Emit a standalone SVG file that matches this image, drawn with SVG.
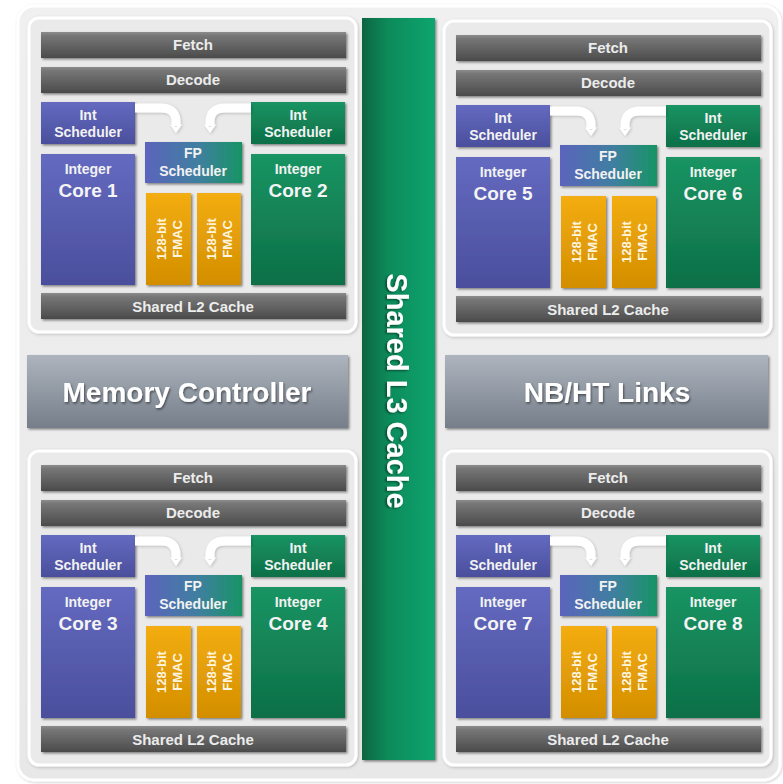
<svg xmlns="http://www.w3.org/2000/svg" width="783" height="784" viewBox="0 0 783 784">
  <defs>
    <style>
      text { font-family: "Liberation Sans", Arial, sans-serif; font-weight: bold; text-anchor: middle; }
      .panel { fill: #eaeaea; stroke: #ffffff; stroke-width: 3; }
      .bar { fill: url(#gBar); filter: url(#shadow); }
      .purple { fill: url(#gPurple); filter: url(#shadow); }
      .green { fill: url(#gGreen); filter: url(#shadow); }
      .fp { fill: url(#gFp); filter: url(#shadow); }
      .fmac { fill: url(#gFmac); filter: url(#shadow); }
      .slate { fill: url(#gSlate); filter: url(#shadow); }
      .l3 { fill: url(#gL3); filter: url(#shadow); }
      .tBar { font-size: 15px; fill: #ececec; }
      .tSm { font-size: 14px; fill: #f2f2f2; }
      .tCore { font-size: 19px; fill: #f4f4f4; }
      .tFm { font-size: 13px; fill: #fff6e0; }
      .tBig { font-size: 28px; fill: #ffffff; filter: url(#tshadow); }
      .tL3 { font-size: 29px; fill: #ffffff; filter: url(#tshadow); }
      .arrow { fill: none; stroke: #ffffff; stroke-width: 9; marker-end: url(#head); }
    </style>
    <linearGradient id="gBar" x1="0" y1="0" x2="0" y2="1">
      <stop offset="0" stop-color="#8c8c8c"/>
      <stop offset="0.15" stop-color="#767676"/>
      <stop offset="1" stop-color="#4b4b4b"/>
    </linearGradient>
    <linearGradient id="gPurple" x1="0" y1="0" x2="0" y2="1">
      <stop offset="0" stop-color="#646ac0"/>
      <stop offset="1" stop-color="#4a4f9c"/>
    </linearGradient>
    <linearGradient id="gGreen" x1="0" y1="0" x2="0" y2="1">
      <stop offset="0" stop-color="#1a9463"/>
      <stop offset="1" stop-color="#0d6f47"/>
    </linearGradient>
    <linearGradient id="gFp" x1="0" y1="0" x2="1" y2="0">
      <stop offset="0" stop-color="#5c64bc"/>
      <stop offset="0.55" stop-color="#3f7fa0"/>
      <stop offset="1" stop-color="#179464"/>
    </linearGradient>
    <linearGradient id="gFmac" x1="0" y1="0" x2="0" y2="1">
      <stop offset="0" stop-color="#f3ad12"/>
      <stop offset="1" stop-color="#d38e00"/>
    </linearGradient>
    <linearGradient id="gSlate" x1="0" y1="0" x2="0" y2="1">
      <stop offset="0" stop-color="#adb4be"/>
      <stop offset="1" stop-color="#757e89"/>
    </linearGradient>
    <linearGradient id="gL3" x1="0" y1="0" x2="1" y2="0">
      <stop offset="0" stop-color="#0a6541"/>
      <stop offset="0.35" stop-color="#0a8a5a"/>
      <stop offset="1" stop-color="#0aa56f"/>
    </linearGradient>
    <linearGradient id="gOuter" x1="0" y1="0" x2="0" y2="1">
      <stop offset="0" stop-color="#f0f0f0"/>
      <stop offset="1" stop-color="#e8e8e8"/>
    </linearGradient>
    <filter id="shadow" x="-10%" y="-10%" width="130%" height="130%">
      <feDropShadow dx="1.5" dy="1.5" stdDeviation="1.2" flood-color="#000" flood-opacity="0.45"/>
    </filter>
    <filter id="soft" x="-5%" y="-5%" width="110%" height="110%">
      <feDropShadow dx="1" dy="1" stdDeviation="1.5" flood-color="#000" flood-opacity="0.2"/>
    </filter>
    <filter id="tshadow" x="-10%" y="-20%" width="120%" height="150%">
      <feDropShadow dx="1" dy="1.5" stdDeviation="1" flood-color="#000" flood-opacity="0.5"/>
    </filter>
    <marker id="head" markerUnits="userSpaceOnUse" markerWidth="20" markerHeight="14" refX="2" refY="8" orient="auto" viewBox="0 0 20 16">
      <path d="M0,1 L10,8 L0,15 L3,8 Z" fill="#ffffff"/>
    </marker>
  </defs>

  <!-- backdrop -->
  <rect x="0" y="0" width="783" height="784" fill="#ffffff"/>
  <rect x="18" y="6" width="762" height="774" rx="16" fill="url(#gOuter)" stroke="#ffffff" stroke-width="3" filter="url(#soft)"/>

  <!-- shared L3 cache -->
  <g id="l3-cache">
    <rect class="l3" x="362" y="18" width="73" height="742"/>
    <text class="tL3" transform="translate(397,391) rotate(90)" x="0" y="10">Shared L3 Cache</text>
  </g>

  <!-- memory controller -->
  <g id="memory-controller">
    <rect class="slate" x="27" y="355" width="321" height="73"/>
    <text class="tBig" x="187" y="402">Memory Controller</text>
  </g>

  <!-- northbridge / HyperTransport -->
  <g id="nb-ht-links">
    <rect class="slate" x="445" y="355" width="323" height="73"/>
    <text class="tBig" x="607" y="402">NB/HT Links</text>
  </g>

  <!-- module with cores 1 and 2 -->
  <g id="module-1" transform="translate(0,0)">
    <rect class="panel" x="29" y="18" width="327" height="314" rx="10" filter="url(#soft)"/>
    <g id="m1-fetch"><rect class="bar" x="41" y="32" width="305" height="26"/><text class="tBar" x="193" y="50">Fetch</text></g>
    <g id="m1-decode"><rect class="bar" x="41" y="67" width="305" height="26"/><text class="tBar" x="193" y="85">Decode</text></g>
    <g id="m1-int-sched-a"><rect class="purple" x="41" y="102" width="94" height="42"/><text class="tSm" x="88" y="120">Int</text><text class="tSm" x="88" y="137">Scheduler</text></g>
    <g id="m1-int-sched-b"><rect class="green" x="251" y="102" width="94" height="42"/><text class="tSm" x="298" y="120">Int</text><text class="tSm" x="298" y="137">Scheduler</text></g>
    <g id="m1-fp-sched"><rect class="fp" x="145" y="142" width="97" height="41"/><text class="tSm" x="193" y="158">FP</text><text class="tSm" x="193" y="176">Scheduler</text></g>
    <g id="m1-core-1"><rect class="purple" x="41" y="154" width="94" height="131"/><text class="tSm" x="88" y="174">Integer</text><text class="tCore" x="88" y="197">Core 1</text></g>
    <g id="m1-core-2"><rect class="green" x="251" y="154" width="94" height="131"/><text class="tSm" x="298" y="174">Integer</text><text class="tCore" x="298" y="197">Core 2</text></g>
    <g id="m1-fmac-1"><rect class="fmac" x="146" y="193" width="45" height="92"/><g transform="translate(168.5,239) rotate(-90)"><text class="tFm" x="0" y="-3">128-bit</text><text class="tFm" x="0" y="13">FMAC</text></g></g>
    <g id="m1-fmac-2"><rect class="fmac" x="197" y="193" width="44" height="92"/><g transform="translate(219,239) rotate(-90)"><text class="tFm" x="0" y="-3">128-bit</text><text class="tFm" x="0" y="13">FMAC</text></g></g>
    <g id="m1-l2"><rect class="bar" x="41" y="293" width="305" height="26"/><text class="tBar" x="193" y="312">Shared L2 Cache</text></g>
  </g>

  <!-- module with cores 5 and 6 -->
  <g id="module-3" transform="translate(415,3)">
    <rect class="panel" x="29" y="18" width="327" height="314" rx="10" filter="url(#soft)"/>
    <g id="m3-fetch"><rect class="bar" x="41" y="32" width="305" height="26"/><text class="tBar" x="193" y="50">Fetch</text></g>
    <g id="m3-decode"><rect class="bar" x="41" y="67" width="305" height="26"/><text class="tBar" x="193" y="85">Decode</text></g>
    <g id="m3-int-sched-a"><rect class="purple" x="41" y="102" width="94" height="42"/><text class="tSm" x="88" y="120">Int</text><text class="tSm" x="88" y="137">Scheduler</text></g>
    <g id="m3-int-sched-b"><rect class="green" x="251" y="102" width="94" height="42"/><text class="tSm" x="298" y="120">Int</text><text class="tSm" x="298" y="137">Scheduler</text></g>
    <g id="m3-fp-sched"><rect class="fp" x="145" y="142" width="97" height="41"/><text class="tSm" x="193" y="158">FP</text><text class="tSm" x="193" y="176">Scheduler</text></g>
    <g id="m3-core-5"><rect class="purple" x="41" y="154" width="94" height="131"/><text class="tSm" x="88" y="174">Integer</text><text class="tCore" x="88" y="197">Core 5</text></g>
    <g id="m3-core-6"><rect class="green" x="251" y="154" width="94" height="131"/><text class="tSm" x="298" y="174">Integer</text><text class="tCore" x="298" y="197">Core 6</text></g>
    <g id="m3-fmac-1"><rect class="fmac" x="146" y="193" width="45" height="92"/><g transform="translate(168.5,239) rotate(-90)"><text class="tFm" x="0" y="-3">128-bit</text><text class="tFm" x="0" y="13">FMAC</text></g></g>
    <g id="m3-fmac-2"><rect class="fmac" x="197" y="193" width="44" height="92"/><g transform="translate(219,239) rotate(-90)"><text class="tFm" x="0" y="-3">128-bit</text><text class="tFm" x="0" y="13">FMAC</text></g></g>
    <g id="m3-l2"><rect class="bar" x="41" y="293" width="305" height="26"/><text class="tBar" x="193" y="312">Shared L2 Cache</text></g>
  </g>

  <!-- module with cores 3 and 4 -->
  <g id="module-2" transform="translate(0,433)">
    <rect class="panel" x="29" y="18" width="327" height="314" rx="10" filter="url(#soft)"/>
    <g id="m2-fetch"><rect class="bar" x="41" y="32" width="305" height="26"/><text class="tBar" x="193" y="50">Fetch</text></g>
    <g id="m2-decode"><rect class="bar" x="41" y="67" width="305" height="26"/><text class="tBar" x="193" y="85">Decode</text></g>
    <g id="m2-int-sched-a"><rect class="purple" x="41" y="102" width="94" height="42"/><text class="tSm" x="88" y="120">Int</text><text class="tSm" x="88" y="137">Scheduler</text></g>
    <g id="m2-int-sched-b"><rect class="green" x="251" y="102" width="94" height="42"/><text class="tSm" x="298" y="120">Int</text><text class="tSm" x="298" y="137">Scheduler</text></g>
    <g id="m2-fp-sched"><rect class="fp" x="145" y="142" width="97" height="41"/><text class="tSm" x="193" y="158">FP</text><text class="tSm" x="193" y="176">Scheduler</text></g>
    <g id="m2-core-3"><rect class="purple" x="41" y="154" width="94" height="131"/><text class="tSm" x="88" y="174">Integer</text><text class="tCore" x="88" y="197">Core 3</text></g>
    <g id="m2-core-4"><rect class="green" x="251" y="154" width="94" height="131"/><text class="tSm" x="298" y="174">Integer</text><text class="tCore" x="298" y="197">Core 4</text></g>
    <g id="m2-fmac-1"><rect class="fmac" x="146" y="193" width="45" height="92"/><g transform="translate(168.5,239) rotate(-90)"><text class="tFm" x="0" y="-3">128-bit</text><text class="tFm" x="0" y="13">FMAC</text></g></g>
    <g id="m2-fmac-2"><rect class="fmac" x="197" y="193" width="44" height="92"/><g transform="translate(219,239) rotate(-90)"><text class="tFm" x="0" y="-3">128-bit</text><text class="tFm" x="0" y="13">FMAC</text></g></g>
    <g id="m2-l2"><rect class="bar" x="41" y="293" width="305" height="26"/><text class="tBar" x="193" y="312">Shared L2 Cache</text></g>
  </g>

  <!-- module with cores 7 and 8 -->
  <g id="module-4" transform="translate(415,433)">
    <rect class="panel" x="29" y="18" width="327" height="314" rx="10" filter="url(#soft)"/>
    <g id="m4-fetch"><rect class="bar" x="41" y="32" width="305" height="26"/><text class="tBar" x="193" y="50">Fetch</text></g>
    <g id="m4-decode"><rect class="bar" x="41" y="67" width="305" height="26"/><text class="tBar" x="193" y="85">Decode</text></g>
    <g id="m4-int-sched-a"><rect class="purple" x="41" y="102" width="94" height="42"/><text class="tSm" x="88" y="120">Int</text><text class="tSm" x="88" y="137">Scheduler</text></g>
    <g id="m4-int-sched-b"><rect class="green" x="251" y="102" width="94" height="42"/><text class="tSm" x="298" y="120">Int</text><text class="tSm" x="298" y="137">Scheduler</text></g>
    <g id="m4-fp-sched"><rect class="fp" x="145" y="142" width="97" height="41"/><text class="tSm" x="193" y="158">FP</text><text class="tSm" x="193" y="176">Scheduler</text></g>
    <g id="m4-core-7"><rect class="purple" x="41" y="154" width="94" height="131"/><text class="tSm" x="88" y="174">Integer</text><text class="tCore" x="88" y="197">Core 7</text></g>
    <g id="m4-core-8"><rect class="green" x="251" y="154" width="94" height="131"/><text class="tSm" x="298" y="174">Integer</text><text class="tCore" x="298" y="197">Core 8</text></g>
    <g id="m4-fmac-1"><rect class="fmac" x="146" y="193" width="45" height="92"/><g transform="translate(168.5,239) rotate(-90)"><text class="tFm" x="0" y="-3">128-bit</text><text class="tFm" x="0" y="13">FMAC</text></g></g>
    <g id="m4-fmac-2"><rect class="fmac" x="197" y="193" width="44" height="92"/><g transform="translate(219,239) rotate(-90)"><text class="tFm" x="0" y="-3">128-bit</text><text class="tFm" x="0" y="13">FMAC</text></g></g>
    <g id="m4-l2"><rect class="bar" x="41" y="293" width="305" height="26"/><text class="tBar" x="193" y="312">Shared L2 Cache</text></g>
  </g>

  <!-- scheduler-to-FP links, one pair per module -->
  <g id="connectors" filter="url(#soft)">
    <path class="arrow" d="M135,108 H161 Q176,108 176,122 V126"/>
    <path class="arrow" d="M251,108 H225 Q210,108 210,122 V126"/>
    <path class="arrow" transform="translate(415,3)" d="M135,108 H161 Q176,108 176,122 V126"/>
    <path class="arrow" transform="translate(415,3)" d="M251,108 H225 Q210,108 210,122 V126"/>
    <path class="arrow" transform="translate(0,433)" d="M135,108 H161 Q176,108 176,122 V126"/>
    <path class="arrow" transform="translate(0,433)" d="M251,108 H225 Q210,108 210,122 V126"/>
    <path class="arrow" transform="translate(415,433)" d="M135,108 H161 Q176,108 176,122 V126"/>
    <path class="arrow" transform="translate(415,433)" d="M251,108 H225 Q210,108 210,122 V126"/>
  </g>
</svg>
